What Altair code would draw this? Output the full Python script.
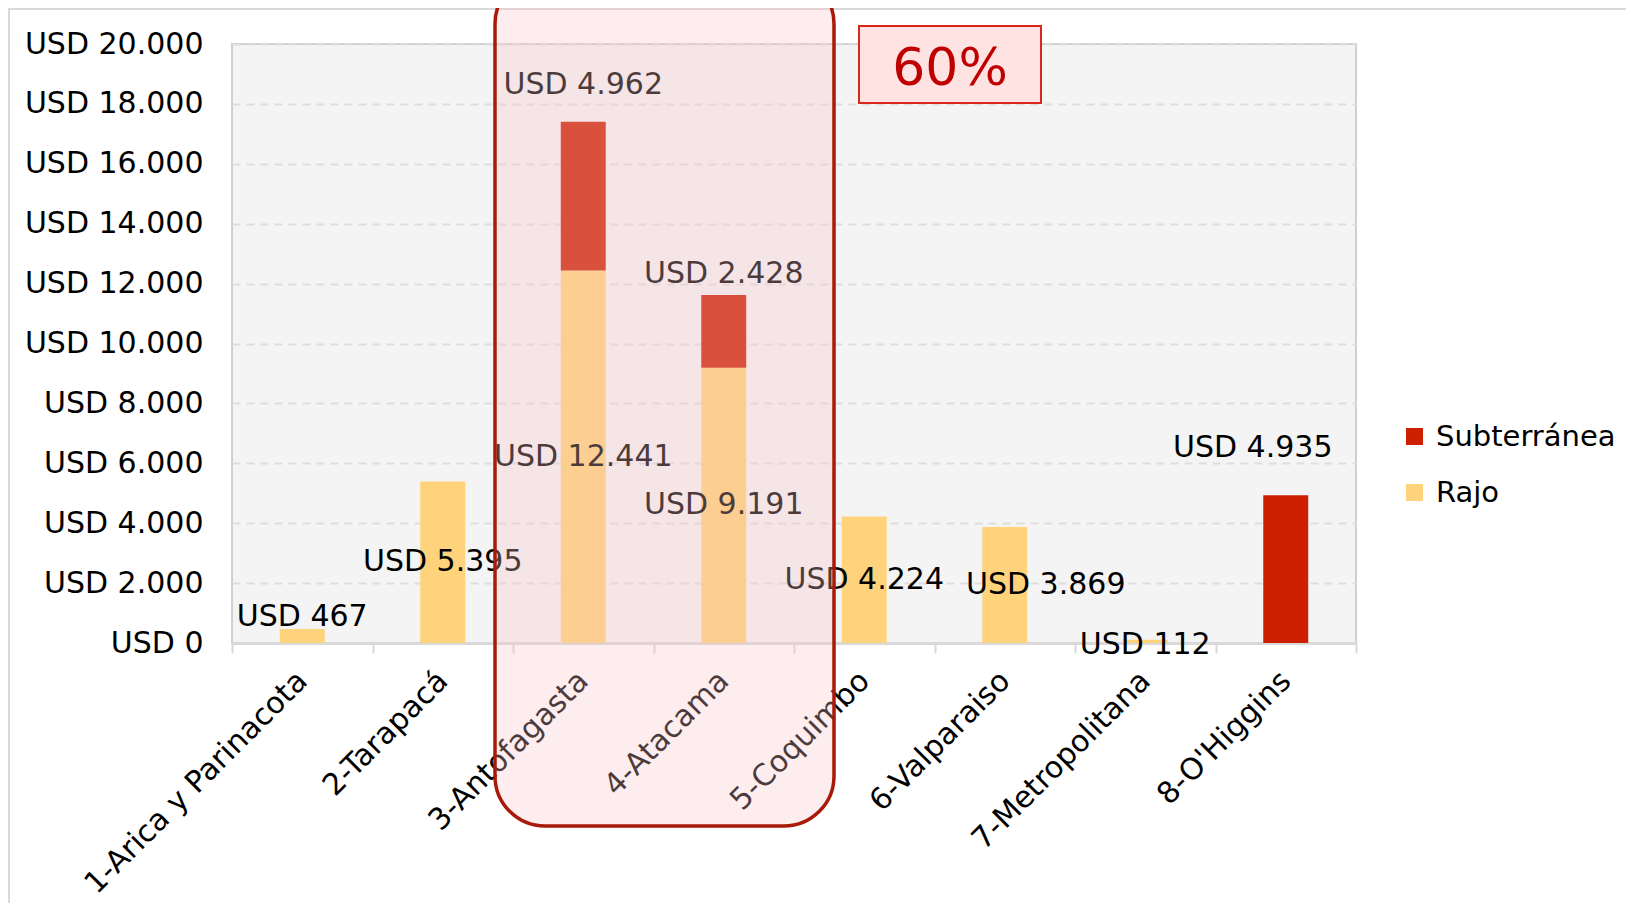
import altair as alt
import pandas as pd

# ---- data ----
regions = ["1-Arica y Parinacota", "2-Tarapacá", "3-Antofagasta", "4-Atacama",
           "5-Coquimbo", "6-Valparaiso", "7-Metropolitana", "8-O'Higgins"]
rajo = [467, 5395, 12441, 9191, 4224, 3869, 112, 0]
subterranea = [0, 0, 4962, 2428, 0, 0, 0, 4935]
series = ["Subterránea", "Rajo"]
series_colors = ["#CC2000", "#FFD37B"]
y_ticks = [0, 2000, 4000, 6000, 8000, 10000, 12000, 14000, 16000, 18000, 20000]
highlight_text = ["60%"]

# label nudges (pixels) as placed in the original: (serie, region) -> (dx, dy)
label_nudge = {
    ("Rajo", "1-Arica y Parinacota"): (0, -19),
    ("Rajo", "6-Valparaiso"): (41, 0),
    ("Rajo", "7-Metropolitana"): (0, 4),
    ("Subterránea", "3-Antofagasta"): (0, -37),
    ("Subterránea", "4-Atacama"): (0, -21),
    ("Subterránea", "8-O'Higgins"): (-33, -47),
}


def usd(v):
    return "USD " + f"{v:,}".replace(",", ".")


rows, label_rows = [], []
for reg, a, b in zip(regions, rajo, subterranea):
    if a:
        rows.append({"region": reg, "serie": "Rajo", "valor": a, "orden": 0})
        label_rows.append({"region": reg, "serie": "Rajo", "pos": a / 2, "txt": usd(a)})
    if b:
        rows.append({"region": reg, "serie": "Subterránea", "valor": b, "orden": 1})
        label_rows.append({"region": reg, "serie": "Subterránea", "pos": a + b, "txt": usd(b)})
bars_df = pd.DataFrame(rows)
labels_df = pd.DataFrame(label_rows)
one = pd.DataFrame({"t": highlight_text})

FONT = "DejaVu Sans"
FS = 30

x_enc = alt.X("region:N", sort=regions, title=None,
              scale=alt.Scale(paddingInner=0, paddingOuter=0),
              axis=alt.Axis(labelAngle=-45, labelAlign="right", labelBaseline="middle",
                            labelFontSize=FS, labelPadding=23, labelColor="#000000",
                            labelLimit=0, labelOverlap=False,
                            tickBand="extent", tickSize=10, tickColor="#D9D9D9", tickWidth=2,
                            domainColor="#D9D9D9", domainWidth=3, grid=False))
y_scale = alt.Scale(domain=[0, 20000], nice=False)

bars = alt.Chart(bars_df).mark_bar(width=alt.RelativeBandSize(0.32)).encode(
    x=x_enc,
    y=alt.Y("valor:Q", stack="zero", scale=y_scale, title=None,
            axis=alt.Axis(values=y_ticks,
                          labelExpr="'USD ' + replace(format(datum.value, ','), ',', '.')",
                          labelFontSize=FS, labelPadding=29, labelColor="#000000",
                          ticks=False, domain=False,
                          gridColor="#DEDEDE", gridDash=[8, 6], gridWidth=2)),
    color=alt.Color("serie:N", scale=alt.Scale(domain=series, range=series_colors),
                    legend=alt.Legend(title=None, orient="none", legendX=1168, legendY=378,
                                      symbolType="square", symbolSize=289, symbolStrokeWidth=0,
                                      labelFontSize=29, labelOffset=7, rowPadding=26,
                                      labelLimit=0, labelColor="#000000")),
    order=alt.Order("orden:Q"),
)

label_layers = []
nudged_keys = list(label_nudge.keys())
default_filter = " && ".join(
    f"!(datum.serie === '{s}' && datum.region === \"{r}\")" for s, r in nudged_keys)
label_layers.append(
    alt.Chart(labels_df).transform_filter(default_filter).mark_text(
        fontSize=FS, color="#000000", baseline="middle").encode(
        x=alt.X("region:N", sort=regions), y=alt.Y("pos:Q", scale=y_scale), text="txt:N"))
for (s, r), (dx, dy) in label_nudge.items():
    label_layers.append(
        alt.Chart(labels_df).transform_filter(
            f"datum.serie === '{s}' && datum.region === \"{r}\"").mark_text(
            fontSize=FS, color="#000000", baseline="middle", dx=dx, dy=dy).encode(
            x=alt.X("region:N", sort=regions), y=alt.Y("pos:Q", scale=y_scale), text="txt:N"))

frame = alt.Chart(one).mark_rect(fill="#FFFFFF", fillOpacity=0, stroke="#D9D9D9",
                                 strokeWidth=2).encode(
    x=alt.value(-223), x2=alt.value(1500), y=alt.value(-35), y2=alt.value(1000))

overlay = alt.Chart(one).mark_rect(fill="#F8C5C7", fillOpacity=0.3, stroke="#A81A0A",
                                   strokeWidth=3.5, cornerRadius=50).encode(
    x=alt.value(263), x2=alt.value(602), y=alt.value(-70), y2=alt.value(782))

box = alt.Chart(one).mark_rect(fill="#FFE3E3", stroke="#D8281A", strokeWidth=2).encode(
    x=alt.value(627), x2=alt.value(809), y=alt.value(-18), y2=alt.value(59))
box_text = alt.Chart(one).mark_text(fontSize=52, color="#C00000", align="center",
                                    baseline="middle").encode(
    x=alt.value(718), y=alt.value(25), text="t:N")

chart = alt.layer(frame, bars, *label_layers, overlay, box, box_text).properties(
    width=1124, height=599,
    autosize=alt.AutoSizeParams(type="none"),
    padding={"left": 224, "top": 36, "right": 270, "bottom": 260},
    background="#FFFFFF",
).configure(font=FONT).configure_view(fill="#F4F4F4", stroke="#D0D0D0", strokeWidth=2)

chart.save("out.html", embed_options={"renderer": "svg", "actions": False})
